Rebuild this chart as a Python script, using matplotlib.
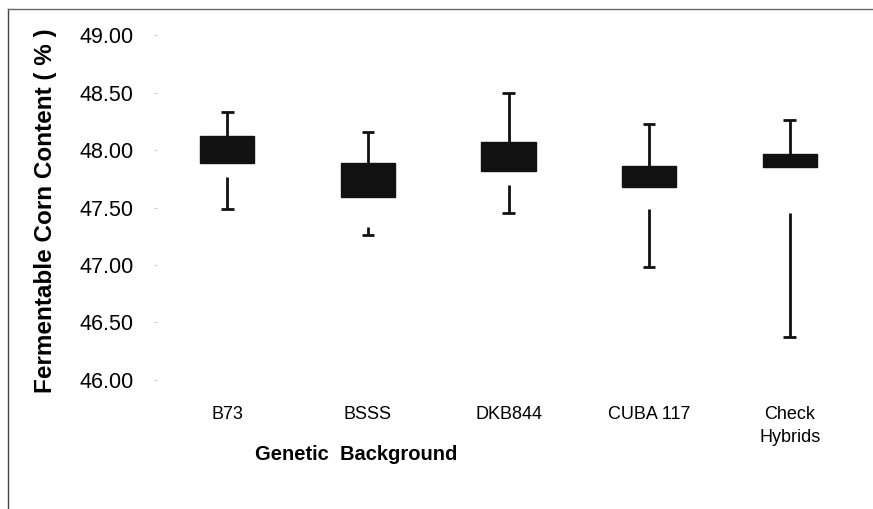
import numpy as np
import matplotlib.pyplot as plt
from matplotlib.lines import Line2D

# values (Fermentable corn content, %)
groups = ["B73", "BSSS", "DKB844", "CUBA 117", "Check\nHybrids"]
box_top = [48.12, 47.89, 48.07, 47.86, 47.97]
box_bottom = [47.89, 47.59, 47.82, 47.68, 47.85]
whisker_max = [48.33, 48.16, 48.50, 48.23, 48.26]
lower_start = [47.77, 47.33, 47.70, 47.49, 47.45]
whisker_min = [47.49, 47.26, 47.45, 46.98, 46.37]
yticks = [46.0, 46.5, 47.0, 47.5, 48.0, 48.5, 49.0]

plt.rcParams['font.family'] = ['Liberation Sans', 'DejaVu Sans']

fig = plt.figure(figsize=(8.73, 5.09), dpi=100)
ax = fig.add_axes([0.18, 0.2535, 0.805, 0.6775])

x = np.arange(len(groups))
ax.bar(x, np.array(box_top) - np.array(box_bottom), bottom=box_bottom,
       width=0.385, color='#111111', edgecolor='#111111')
# upper whiskers
ax.vlines(x, box_top, whisker_max, color='#111111', lw=2)
ax.hlines(whisker_max, x - 0.045, x + 0.045, color='#111111', lw=2)
# lower whiskers
ax.vlines(x, whisker_min, lower_start, color='#111111', lw=2)
ax.hlines(whisker_min, x - 0.045, x + 0.045, color='#111111', lw=2)

ax.set_xlim(-0.5, len(groups) - 0.5)
ax.set_ylim(46.0, 49.0)
ax.set_yticks(yticks)
ax.set_yticklabels([f"{v:.2f}" for v in yticks], fontsize=15.5)
ax.set_xticks(x)
ax.set_xticklabels(groups, fontsize=13, linespacing=1.45)
ax.tick_params(axis='y', length=2, color='#cccccc', pad=15)
ax.tick_params(axis='x', length=0, pad=19)
for s in ax.spines.values():
    s.set_visible(False)

ax.set_ylabel("Fermentable Corn Content ( % )", fontsize=17.5,
              fontweight='bold')
ax.yaxis.set_label_coords(-0.143, 0.49)
ax.set_xlabel("Genetic  Background", fontsize=14.5, fontweight='bold')
ax.xaxis.set_label_coords(0.283, -0.19)

# frame of the scanned figure (top and left edges)
fig.add_artist(Line2D([8 / 873, 8 / 873], [0, 1 - 9 / 509],
                      transform=fig.transFigure, color='#444444', lw=1))
fig.add_artist(Line2D([8 / 873, 1], [1 - 9 / 509, 1 - 9 / 509],
                      transform=fig.transFigure, color='#666666', lw=1))

fig.savefig("out.png", dpi=100)
